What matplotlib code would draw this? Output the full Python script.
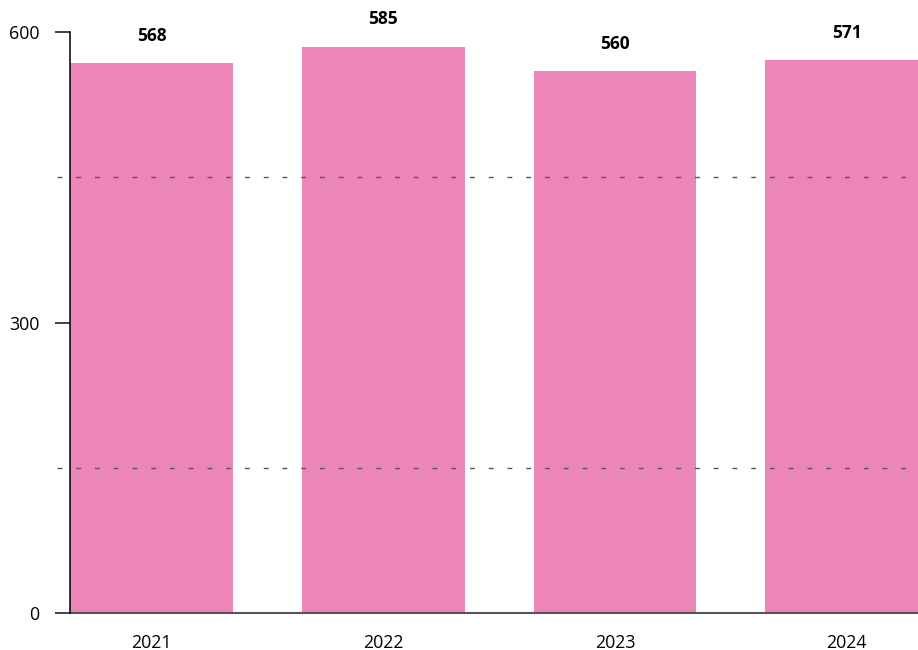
import matplotlib
matplotlib.use("Agg")
import matplotlib.pyplot as plt
import matplotlib.transforms as mtransforms

years = ["2021", "2022", "2023", "2024"]
values = [568, 585, 560, 571]
y_ticks = [0, 300, 600]
grid_vals = [150, 450]

plt.rcParams['font.family'] = ['Open Sans', 'DejaVu Sans']

fig = plt.figure(figsize=(9.18, 6.5), dpi=100)
ax = fig.add_axes([70/918, 37/650, 848/918, 581/650])

x = list(range(len(years)))
ax.bar(x, values, width=0.703, color="#EC86B8", zorder=1)

ax.set_xlim(-0.352, 3.308)
ax.set_ylim(0, 600)

trans = mtransforms.blended_transform_factory(ax.transAxes, ax.transData)
for g in grid_vals:
    ax.plot([-0.0153, 1], [g, g], transform=trans, color="#555555", lw=1,
            linestyle=(0, (3.5, 10)), clip_on=False, zorder=3)

for xi, v in zip(x, values):
    ax.annotate(str(v), (xi, v), xytext=(0, 19.5), textcoords="offset points",
                ha="center", va="center", fontsize=12.5, fontweight="bold",
                annotation_clip=False)

ax.set_xticks(x)
ax.set_xticklabels(years, fontsize=12.8)
ax.set_yticks(y_ticks)
ax.set_yticklabels([str(t) for t in y_ticks], fontsize=12.8)
ax.tick_params(axis="x", length=0, pad=15)
ax.tick_params(axis="y", length=11, width=1.2, pad=11, color="#222222")

for s in ["top", "right"]:
    ax.spines[s].set_visible(False)
ax.spines["left"].set_color("#111111")
ax.spines["left"].set_linewidth(1.2)
ax.spines["bottom"].set_color("#555555")
ax.spines["bottom"].set_linewidth(1.5)
ax.spines["left"].set_zorder(4)

fig.savefig("out.png", dpi=100)
